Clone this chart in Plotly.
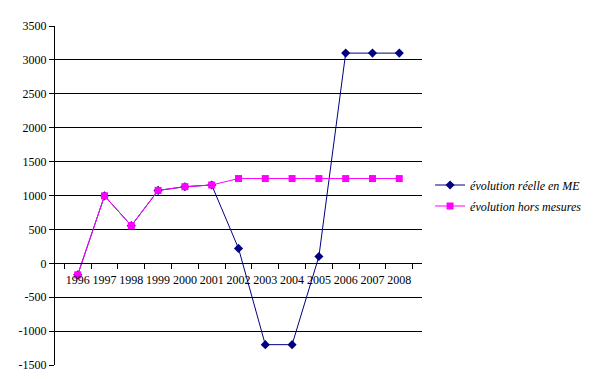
import plotly.graph_objects as go

years = ["1996", "1997", "1998", "1999", "2000", "2001", "2002", "2003",
         "2004", "2005", "2006", "2007", "2008"]
reelle = [-170, 995, 555, 1075, 1130, 1155, 220, -1200, -1200, 100, 3100, 3100, 3100]
hors_mesures = [-170, 995, 555, 1075, 1130, 1155, 1250, 1250, 1250, 1250, 1250, 1250, 1250]
y_ticks = [-1500, -1000, -500, 0, 500, 1000, 1500, 2000, 2500, 3000, 3500]
y_tick_labels = [str(v) for v in y_ticks]

fig = go.Figure()
fig.add_trace(go.Scatter(
    x=years, y=reelle, mode="lines+markers", name="évolution réelle en ME",
    legendgroup="a",
    line=dict(color="#000080", width=1),
    marker=dict(symbol="diamond", size=7, color="#000080"),
))
fig.add_trace(go.Scatter(
    x=years, y=hors_mesures, mode="lines+markers", name="évolution hors mesures",
    legendgroup="b",
    line=dict(color="#FF00FF", width=1),
    marker=dict(symbol="square", size=7, color="#FF00FF"),
))

font_family = "Times New Roman"
fig.update_layout(
    width=600, height=383,
    margin=dict(l=47, r=186, t=18, b=26),
    paper_bgcolor="white", plot_bgcolor="white",
    font=dict(family=font_family, size=12, color="black"),
    showlegend=True,
    legend=dict(x=1.022, y=0.5, xanchor="left", yanchor="middle",
                font=dict(family=font_family, size=12, style="italic"),
                bgcolor="rgba(0,0,0,0)", itemwidth=30, tracegroupgap=2),
    xaxis=dict(
        type="category", anchor="free", position=0.3,
        showline=True, linecolor="black", linewidth=1,
        ticks="outside", tickson="boundaries", ticklen=5, tickcolor="black",
        showgrid=False, zeroline=False, tickangle=0, automargin=False,
        ticklabelstandoff=5,
        tickfont=dict(family=font_family, size=12),
    ),
    yaxis=dict(
        range=[-1500, 3500], tickvals=y_ticks, ticktext=y_tick_labels,
        showline=True, linecolor="black", linewidth=1,
        ticks="outside", ticklen=5, tickcolor="black",
        showgrid=True, gridcolor="black", gridwidth=1,
        zeroline=False, automargin=False,
        tickfont=dict(family=font_family, size=12),
    ),
)

fig.write_html("out.html")
